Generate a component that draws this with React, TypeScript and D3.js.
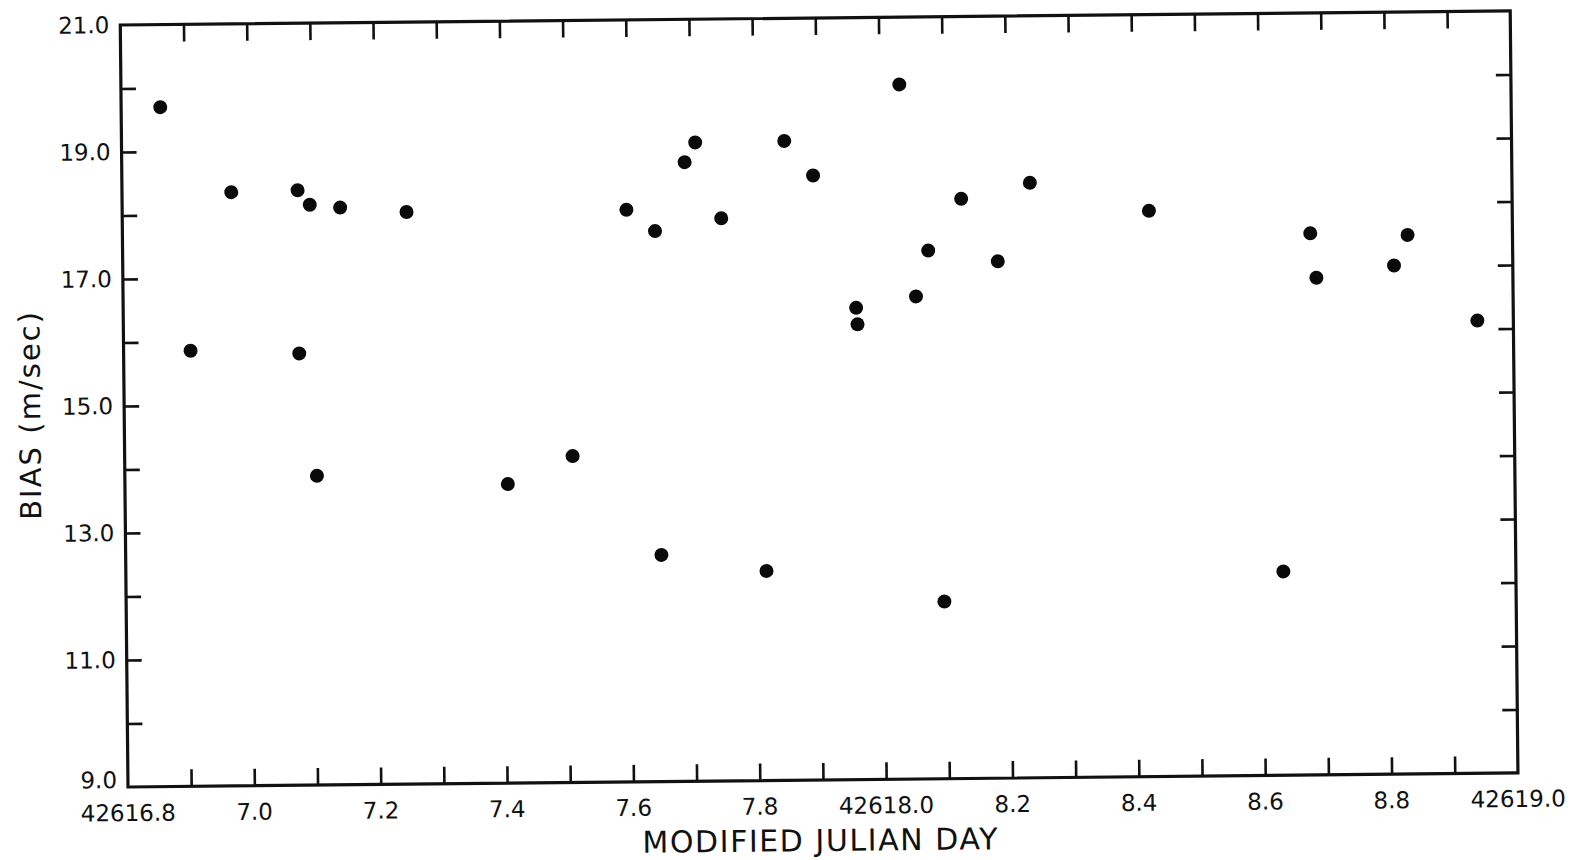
import { useEffect, useRef } from 'react'
import * as d3 from 'd3'

// Bias estimates: epoch (MJD) and bias in m/sec
const mjd = [
  42616.862, 42616.906, 42616.973, 42617.078, 42617.097, 42617.078, 42617.104, 42617.145, 42617.250,
  42617.406, 42617.509, 42617.598, 42617.643, 42617.648, 42617.691, 42617.708, 42617.748, 42617.814,
  42617.849, 42617.894, 42617.960, 42617.962, 42618.032, 42618.055, 42618.075, 42618.095, 42618.128,
  42618.185, 42618.237, 42618.425, 42618.632, 42618.680, 42618.689, 42618.812, 42618.834, 42618.943,
]
const bias = [
  19.70, 15.86, 18.35, 18.37, 18.14, 15.80, 13.87, 18.09, 18.01,
  13.71, 14.14, 18.01, 17.67, 12.57, 18.75, 19.06, 17.86, 12.30,
  19.07, 18.52, 16.43, 16.17, 19.94, 16.60, 17.32, 11.79, 18.13,
  17.14, 18.37, 17.91, 12.21, 17.53, 16.83, 17.01, 17.49, 16.13,
]

const xDomain = [42616.8, 42619.0]
const yDomain = [9, 21]
const xLabelValues = [42616.8, 42617.0, 42617.2, 42617.4, 42617.6, 42617.8, 42618.0, 42618.2, 42618.4, 42618.6, 42618.8, 42619.0]
const xLabels = ['42616.8', '7.0', '7.2', '7.4', '7.6', '7.8', '42618.0', '8.2', '8.4', '8.6', '8.8', '42619.0']
const yLabelValues = [9, 11, 13, 15, 17, 19, 21]
const yLabels = ['9.0', '11.0', '13.0', '15.0', '17.0', '19.0', '21.0']

const FONT = "'DejaVu Sans', 'Liberation Sans', sans-serif"
const TILT = -0.58

export default function App() {
  const svgRef = useRef<SVGSVGElement>(null)

  useEffect(() => {
    if (!svgRef.current) return
    const width = 1571
    const height = 860
    const left = 128, right = 1518, top = 25, bottom = 787

    d3.select(svgRef.current).selectAll('*').remove()
    const svg = d3.select(svgRef.current)
      .attr('width', width)
      .attr('height', height)

    svg.append('rect').attr('width', width).attr('height', height).attr('fill', '#fff')

    // the scanned figure sits slightly tilted on the page
    const g = svg.append('g').attr('transform', `rotate(${TILT},${left},${bottom})`)

    const x = d3.scaleLinear().domain(xDomain).range([left, right])
    const y = d3.scaleLinear().domain(yDomain).range([bottom, top])

    const minorX = d3.range(1, 22).map(i => xDomain[0] + i / 10)
    const minorY = d3.range(10, 21)

    // inward ticks on all four sides
    const styleTicks = (sel: d3.Selection<SVGGElement, unknown, null, undefined>) => {
      sel.select('.domain').remove()
      sel.selectAll('line').attr('stroke', '#111').attr('stroke-width', 2.6)
      sel.selectAll('text').remove()
    }
    g.append('g').attr('transform', `translate(0,${bottom})`)
      .call(d3.axisBottom(x).tickValues(minorX).tickSize(-17).tickFormat(() => ''))
      .call(styleTicks)
    g.append('g').attr('transform', `translate(0,${top})`)
      .call(d3.axisTop(x).tickValues(minorX).tickSize(-17).tickFormat(() => ''))
      .call(styleTicks)
    g.append('g').attr('transform', `translate(${left},0)`)
      .call(d3.axisLeft(y).tickValues(minorY).tickSize(-15).tickFormat(() => ''))
      .call(styleTicks)
    g.append('g').attr('transform', `translate(${right},0)`)
      .call(d3.axisRight(y).tickValues(minorY).tickSize(-15).tickFormat(() => ''))
      .call(styleTicks)

    // frame
    g.append('rect')
      .attr('x', left).attr('y', top)
      .attr('width', right - left).attr('height', bottom - top)
      .attr('fill', 'none')
      .attr('stroke', '#111')
      .attr('stroke-width', 3.2)

    // tick labels
    xLabelValues.forEach((v, i) => {
      g.append('text')
        .attr('x', x(v)).attr('y', bottom + 34)
        .attr('text-anchor', 'middle')
        .attr('font-family', FONT).attr('font-size', 23)
        .attr('fill', '#111')
        .text(xLabels[i])
    })
    yLabelValues.forEach((v, i) => {
      const by = v === yDomain[0] ? y(v) + 1 : y(v) + 8
      g.append('text')
        .attr('x', left - 11).attr('y', by)
        .attr('text-anchor', 'end')
        .attr('font-family', FONT).attr('font-size', 23)
        .attr('fill', '#111')
        .text(yLabels[i])
    })

    // axis titles
    svg.append('text')
      .attr('x', 820).attr('y', 851)
      .attr('transform', `rotate(${TILT},820,851)`)
      .attr('text-anchor', 'middle')
      .attr('font-family', FONT).attr('font-size', 30)
      .attr('textLength', 355).attr('lengthAdjust', 'spacing')
      .attr('fill', '#111')
      .text('MODIFIED JULIAN DAY')
    g.append('text')
      .attr('transform', `translate(44,415) rotate(-90)`)
      .attr('text-anchor', 'middle')
      .attr('font-family', FONT).attr('font-size', 29)
      .attr('textLength', 208).attr('lengthAdjust', 'spacing')
      .attr('fill', '#111')
      .text('BIAS (m/sec)')

    // data points
    g.append('g')
      .selectAll('circle')
      .data(mjd.map((d, i) => [d, bias[i]]))
      .join('circle')
      .attr('cx', d => x(d[0]))
      .attr('cy', d => y(d[1]))
      .attr('r', 7)
      .attr('fill', '#0a0a0a')
  }, [])

  return <svg ref={svgRef} style={{ position: 'absolute', left: 0, top: 0, display: 'block' }} />
}
